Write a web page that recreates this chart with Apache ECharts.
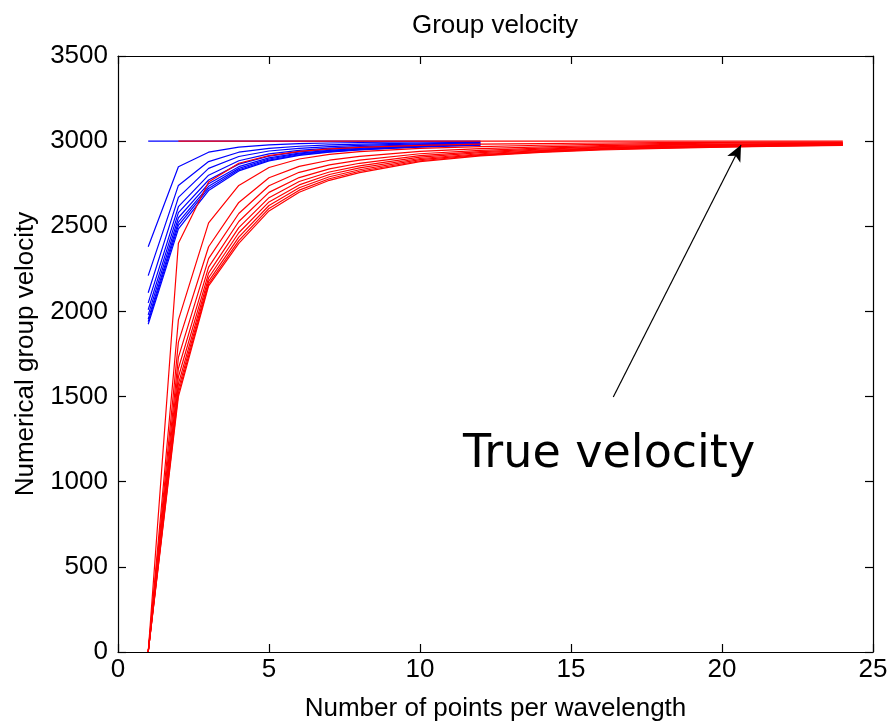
<!DOCTYPE html>
<html><head><meta charset="utf-8">
<script src="https://cdn.jsdelivr.net/npm/echarts@6/dist/echarts.min.js"></script>
<style>html,body{margin:0;padding:0;background:#fff}#c{width:890px;height:723px}</style>
</head><body><div id="c"></div>
<script>
const titleText = 'Group velocity';
const xName = 'Number of points per wavelength';
const yName = 'Numerical group velocity';
const annotationText = 'True velocity';
const xTicks = [0, 5, 10, 15, 20, 25];
const yTicks = [0, 500, 1000, 1500, 2000, 2500, 3000, 3500];
const trueVelocity = 3000;

// red family (x = points per wavelength)
const redX = [1, 2, 3, 4, 5, 6, 7, 8, 10, 12, 14, 16, 18, 20, 22, 24];
const red1  = [0, 2400, 2760, 2870, 2915, 2940, 2955, 2963, 2975, 2982, 2986, 2989, 2991, 2993, 2994, 2995];
const red2  = [0, 1950, 2520, 2740, 2845, 2895, 2922, 2938, 2957, 2968, 2976, 2981, 2985, 2988, 2990, 2992];
const red3  = [0, 1820, 2380, 2640, 2785, 2852, 2888, 2911, 2940, 2956, 2966, 2974, 2979, 2983, 2986, 2988];
const red4  = [0, 1730, 2310, 2575, 2738, 2817, 2861, 2889, 2926, 2946, 2959, 2968, 2975, 2979, 2983, 2986];
const red5  = [0, 1665, 2260, 2528, 2699, 2786, 2837, 2870, 2915, 2938, 2953, 2964, 2971, 2976, 2980, 2984];
const red6  = [0, 1615, 2225, 2492, 2668, 2763, 2819, 2855, 2906, 2932, 2948, 2960, 2968, 2974, 2978, 2982];
const red7  = [0, 1575, 2198, 2462, 2643, 2743, 2804, 2843, 2898, 2926, 2944, 2956, 2965, 2971, 2976, 2980];
const red8  = [0, 1545, 2177, 2436, 2622, 2726, 2791, 2832, 2891, 2921, 2940, 2953, 2962, 2968, 2974, 2978];
const red9  = [0, 1520, 2161, 2416, 2605, 2712, 2779, 2823, 2885, 2917, 2937, 2951, 2960, 2966, 2972, 2977];
const red10 = [0, 1500, 2150, 2400, 2590, 2700, 2770, 2815, 2880, 2914, 2934, 2948, 2958, 2964, 2970, 2975];
const redTrueX = [2, 24];

// blue family
const blueX = [1, 2, 3, 4, 5, 6, 7, 8, 9, 10, 11, 12];
const blue1 = [2380, 2850, 2935, 2965, 2978, 2985, 2989, 2992, 2994, 2995, 2996, 2997];
const blue2 = [2210, 2740, 2880, 2935, 2958, 2970, 2978, 2983, 2986, 2989, 2991, 2993];
const blue3 = [2110, 2670, 2840, 2910, 2942, 2958, 2968, 2975, 2980, 2984, 2987, 2989];
const blue4 = [2050, 2615, 2800, 2885, 2925, 2946, 2959, 2968, 2974, 2979, 2983, 2986];
const blue5 = [2010, 2580, 2772, 2865, 2912, 2937, 2952, 2962, 2969, 2975, 2980, 2983];
const blue6 = [1980, 2550, 2750, 2850, 2902, 2930, 2946, 2957, 2965, 2972, 2977, 2981];
const blue7 = [1955, 2525, 2735, 2840, 2895, 2925, 2942, 2953, 2962, 2969, 2975, 2979];
const blue8 = [1940, 2505, 2722, 2832, 2889, 2920, 2938, 2950, 2959, 2967, 2973, 2977];
const blue9 = [1925, 2485, 2710, 2825, 2884, 2916, 2935, 2948, 2957, 2965, 2971, 2976];
const blueTrueX = [1, 12];

// arrow (data coordinates)
const arrowFrom = [16.4, 1497];
const arrowTo = [20.63, 2977];

const redCurves = [red1, red2, red3, red4, red5, red6, red7, red8, red9, red10];
const blueCurves = [blue1, blue2, blue3, blue4, blue5, blue6, blue7, blue8, blue9];

const FONT = "'Liberation Sans', Arial, sans-serif";
const pair = (xs, ys) => xs.map((x, i) => [x, ys[i]]);

function lineSeries(data, color, z) {
  return { type: 'line', data, symbol: 'none', showSymbol: false, silent: true,
    lineStyle: { color, width: 1.2 }, z, animation: false };
}

const series = [];
series.push(lineSeries(blueTrueX.map(x => [x, trueVelocity]), '#0000ff', 2));
blueCurves.forEach(c => series.push(lineSeries(pair(blueX, c), '#0000ff', 2)));
redCurves.forEach(c => series.push(lineSeries(pair(redX, c), '#ff0000', 3)));
const trueRed = lineSeries(redTrueX.map(x => [x, trueVelocity]), '#ff0000', 3);
trueRed.markLine = {
  silent: true, animation: false, symbol: ['none', 'arrow'], symbolSize: [11, 16],
  label: { show: false },
  lineStyle: { color: '#000', width: 1.2, type: 'solid' },
  data: [[{ coord: arrowFrom }, { coord: arrowTo }]]
};
series.push(trueRed);

function axisCommon() {
  return {
    axisLine: { show: true, onZero: false, lineStyle: { color: '#000', width: 1.2 } },
    axisTick: { show: true, inside: true, length: 8, lineStyle: { color: '#000', width: 1.2 } },
    splitLine: { show: false }
  };
}
const plain = v => String(v);

const chart = echarts.init(document.getElementById('c'), null, { renderer: 'canvas' });
chart.setOption({
  animation: false,
  backgroundColor: '#fff',
  title: { text: titleText, left: 490, top: 8, textAlign: 'center',
    textStyle: { fontFamily: FONT, fontSize: 26, fontWeight: 'normal', color: '#000' } },
  grid: { left: 118, right: 17, top: 56, bottom: 71, containLabel: false, outerBoundsMode: 'none' },
  xAxis: [
    Object.assign({ type: 'value', position: 'bottom', min: xTicks[0], max: xTicks[xTicks.length - 1],
      interval: xTicks[1] - xTicks[0], name: xName, nameLocation: 'middle', nameGap: 44,
      nameTextStyle: { fontFamily: FONT, fontSize: 26, color: '#000' },
      axisLabel: { fontFamily: FONT, fontSize: 26, color: '#000', margin: 5, formatter: plain } }, axisCommon()),
    Object.assign({ type: 'value', position: 'top', min: xTicks[0], max: xTicks[xTicks.length - 1],
      interval: xTicks[1] - xTicks[0], axisLabel: { show: false } }, axisCommon())
  ],
  yAxis: [
    Object.assign({ type: 'value', position: 'left', min: yTicks[0], max: yTicks[yTicks.length - 1],
      interval: yTicks[1] - yTicks[0], name: yName, nameLocation: 'middle', nameGap: 69,
      nameTextStyle: { fontFamily: FONT, fontSize: 26, color: '#000' },
      axisLabel: { fontFamily: FONT, fontSize: 26, color: '#000', margin: 10, formatter: plain } }, axisCommon()),
    Object.assign({ type: 'value', position: 'right', min: yTicks[0], max: yTicks[yTicks.length - 1],
      interval: yTicks[1] - yTicks[0], axisLabel: { show: false } }, axisCommon())
  ],
  graphic: [{
    type: 'text', left: 463, top: 432, silent: true,
    style: { text: annotationText, fontFamily: "'DejaVu Sans', sans-serif", fontSize: 46, fill: '#000' }
  }],
  series
});
</script></body></html>
